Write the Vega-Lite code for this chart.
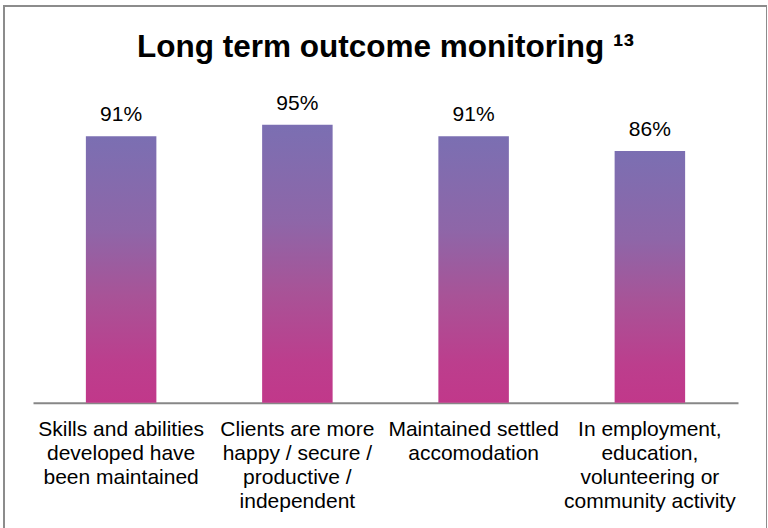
{
  "$schema": "https://vega.github.io/schema/vega-lite/v6.json",
  "width": 763,
  "height": 523,
  "autosize": "none",
  "padding": {"left": 4, "top": 6, "right": 0, "bottom": 0},
  "background": "white",
  "title": {
    "text": "Long term outcome monitoring ¹³",
    "font": "Liberation Sans",
    "fontSize": 31.5,
    "fontWeight": "bold",
    "color": "black",
    "anchor": "middle",
    "frame": "group",
    "baseline": "alphabetic",
    "offset": -82
  },
  "config": {
    "view": {"stroke": "#8c8c8c", "strokeWidth": 2},
    "font": "Liberation Sans"
  },
  "data": {
    "values": [
      {"outcome": "Skills and abilities\ndeveloped have\nbeen maintained", "share": 0.91},
      {"outcome": "Clients are more\nhappy / secure /\nproductive /\nindependent", "share": 0.95},
      {"outcome": "Maintained settled\naccomodation", "share": 0.91},
      {"outcome": "In employment,\neducation,\nvolunteering or\ncommunity activity", "share": 0.86}
    ]
  },
  "encoding": {
    "x": {
      "field": "outcome",
      "type": "nominal",
      "sort": null,
      "scale": {"range": [29, 734], "paddingInner": 0.6, "paddingOuter": 0.3},
      "axis": {
        "title": null,
        "orient": "bottom",
        "offset": -126.3,
        "labelAngle": 0,
        "labelExpr": "split(datum.label, '\\n')",
        "labelFont": "Liberation Sans",
        "labelFontSize": 21,
        "labelLineHeight": 24,
        "labelColor": "black",
        "labelLimit": 0,
        "labelPadding": 16,
        "labelBaseline": "top",
        "ticks": false,
        "domainColor": "#878787",
        "domainWidth": 2,
        "grid": false
      }
    },
    "y": {
      "field": "share",
      "type": "quantitative",
      "scale": {"domain": [0, 1], "range": [396.7, 104], "nice": false},
      "axis": null
    }
  },
  "layer": [
    {
      "mark": {
        "type": "bar",
        "color": {
          "gradient": "linear",
          "x1": 0, "y1": 0, "x2": 0, "y2": 1,
          "stops": [
            {"offset": 0, "color": "#7b6fb2"},
            {"offset": 0.35, "color": "#8e66a8"},
            {"offset": 0.6, "color": "#a85397"},
            {"offset": 0.85, "color": "#bc3e8d"},
            {"offset": 1, "color": "#c1388a"}
          ]
        }
      }
    },
    {
      "mark": {
        "type": "text",
        "font": "Liberation Sans",
        "fontSize": 21,
        "color": "black",
        "baseline": "alphabetic",
        "dy": -15
      },
      "encoding": {
        "text": {"field": "share", "type": "quantitative", "format": ".0%"}
      }
    }
  ]
}
